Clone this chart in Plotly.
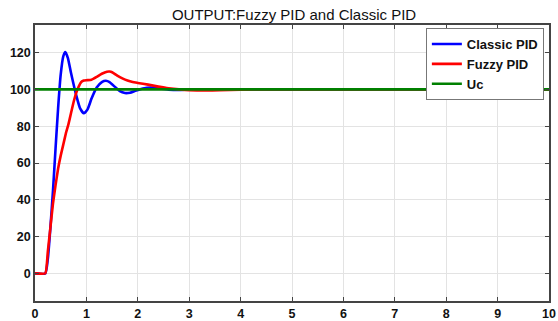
import plotly.graph_objects as go

t_classic = [0, 0.2, 0.25, 0.3, 0.35, 0.4, 0.45, 0.5, 0.55, 0.59, 0.64, 0.7, 0.8, 0.88, 0.95,
             1.02, 1.1, 1.2, 1.3, 1.38, 1.45, 1.55, 1.65, 1.75, 1.85, 1.95, 2.1, 2.25, 2.4,
             2.6, 2.8, 3.0, 3.5, 10]
y_classic = [0, 0, 8, 25, 45, 68, 90, 108, 118, 120.3, 117, 109, 97, 89.5, 87,
             89, 95, 101, 104, 104.7, 104, 101.5, 99, 98, 98.2, 99.2, 100.5, 101, 100.6,
             99.9, 99.7, 99.9, 100, 100]

t_fuzzy = [0, 0.2, 0.25, 0.3, 0.35, 0.4, 0.45, 0.5, 0.55, 0.6, 0.65, 0.7, 0.75, 0.8, 0.85,
           0.9, 0.95, 1.0, 1.1, 1.2, 1.3, 1.4, 1.45, 1.5, 1.6, 1.7, 1.8, 1.9, 2.0, 2.2, 2.4,
           2.6, 2.8, 3.0, 3.3, 3.6, 4.0, 4.5, 10]
y_fuzzy = [0, 0, 12, 25, 38, 48, 57, 64, 70, 76, 81, 87, 93, 98, 101.5,
           104, 104.8, 105, 105.3, 106.8, 108.5, 109.6, 109.7, 109.3, 107.5, 106, 104.8, 104, 103.5, 102.6, 101.5,
           100.6, 100, 99.6, 99.4, 99.5, 99.8, 100, 100]

t_uc = [0, 10]
y_uc = [100, 100]

x_ticks = list(range(0, 11))
y_ticks = [0, 20, 40, 60, 80, 100, 120]

fig = go.Figure()
fig.add_trace(go.Scatter(x=t_classic, y=y_classic, mode="lines", name="Classic PID",
                         line=dict(color="#0000ff", width=2.6, shape="spline", smoothing=0.5)))
fig.add_trace(go.Scatter(x=t_fuzzy, y=y_fuzzy, mode="lines", name="Fuzzy PID",
                         line=dict(color="#ff0000", width=2.6, shape="spline", smoothing=0.4)))
fig.add_trace(go.Scatter(x=t_uc, y=y_uc, mode="lines", name="Uc",
                         line=dict(color="#008000", width=2.6)))

axis_common = dict(showgrid=True, gridcolor="#e3e3e3", gridwidth=1, showline=True,
                   linecolor="#444444", linewidth=1.5, mirror="ticks", ticks="inside",
                   ticklen=4, tickcolor="#444444", zeroline=False, automargin=False,
                   tickfont=dict(family="Arial, Liberation Sans", size=12.5, color="#111111", weight="bold"))

fig.update_layout(
    width=558, height=321,
    margin=dict(l=35, r=9, t=25, b=20, autoexpand=False),
    paper_bgcolor="white", plot_bgcolor="white",
    title=dict(text="OUTPUT:Fuzzy PID and Classic PID", x=0.527, xanchor="center", y=0.953, yanchor="middle",
               font=dict(family="Arial, Liberation Sans", size=15, color="#111111")),
    xaxis=dict(range=[0, 10], tickvals=x_ticks, **axis_common),
    yaxis=dict(range=[-15, 135], tickvals=y_ticks, **axis_common),
    legend=dict(x=0.99, y=0.989, xanchor="right", yanchor="top", bgcolor="white",
                bordercolor="#777777", borderwidth=1,
                font=dict(family="Arial, Liberation Sans", size=13, color="#111111", weight="bold"),
                tracegroupgap=0, itemwidth=30),
    showlegend=True,
)

fig.write_html("out.html", config={"displayModeBar": False},
               post_script="document.body.style.margin='0';document.body.style.overflow='hidden';")
